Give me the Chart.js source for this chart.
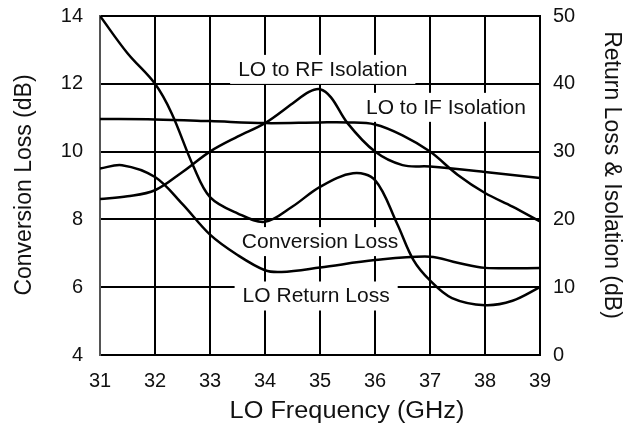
<!DOCTYPE html>
<html>
<head>
<meta charset="utf-8">
<script src="https://cdn.jsdelivr.net/npm/chart.js@4.4.0/dist/chart.umd.min.js"></script>
<style>
  html, body { margin: 0; padding: 0; background: #fff; }
  #wrap { width: 641px; height: 433px; position: relative; }
</style>
</head>
<body>
<div id="wrap"><canvas id="c"></canvas></div>
<script>
// ---- data ----
const xTicks = [31, 32, 33, 34, 35, 36, 37, 38, 39];
const leftTicks = [4, 6, 8, 10, 12, 14];
const rightTicks = [0, 10, 20, 30, 40, 50];

// Conversion Loss (dB, left axis)
const convFreq = [31, 31.4, 32, 32.5, 33, 33.5, 34, 34.3, 35, 36, 37, 37.5, 38, 39];
const convLoss = [9.5, 9.6, 9.25, 8.45, 7.55, 6.95, 6.5, 6.45, 6.58, 6.8, 6.9, 6.72, 6.57, 6.57];

// LO Return Loss (dB, right axis)
const rlFreq = [31, 31.5, 32, 32.3, 32.7, 33, 33.5, 34, 34.5, 35, 35.6, 36, 36.4, 36.7, 37, 37.4, 38, 38.5, 39];
const loReturnLoss = [50, 44.5, 40, 35.7, 27.8, 23.3, 20.9, 19.65, 21.9, 24.8, 26.8, 25.8, 19.4, 14, 11, 8.4, 7.35, 8, 10];

// LO to RF Isolation (dB, right axis)
const rfFreq = [31, 31.5, 32, 32.5, 33, 33.5, 34, 34.5, 34.8, 35, 35.2, 35.5, 36, 36.5, 37, 38, 39];
const loRfIso = [23, 23.4, 24.3, 27, 30, 32.2, 34.2, 37.1, 38.8, 39.2, 38.0, 34.2, 30, 28, 27.8, 27, 26.1];

// LO to IF Isolation (dB, right axis)
const ifFreq = [31, 32, 33, 34, 35, 35.5, 36, 36.5, 37, 37.5, 38, 38.5, 39];
const loIfIso = [34.8, 34.75, 34.5, 34.2, 34.3, 34.3, 34.0, 32.4, 30, 26.6, 23.9, 21.9, 19.7];

// in-plot labels: text, x (GHz), y (left-axis dB)
const labelTexts = ["LO to RF Isolation", "LO to IF Isolation", "Conversion Loss", "LO Return Loss"];
const labelX = [35.05, 37.29, 35.0, 34.93];
const labelY = [12.44, 11.32, 7.36, 5.755];

const FONT = "'Liberation Sans', Arial, Helvetica, sans-serif";

function pts(xs, ys) { return xs.map((x, i) => ({ x: x, y: ys[i] })); }

const lineStyle = {
  borderColor: '#000', borderWidth: 2.5, pointRadius: 0,
  tension: 0.35, fill: false
};

function noVPad(s) { s.paddingTop = 0; s.paddingBottom = 0; }

const labelPlugin = {
  id: 'labels',
  beforeDatasetsDraw(chart) {
    const ctx = chart.ctx;
    const xs = chart.scales.x, ys = chart.scales.y;
    ctx.save();
    ctx.font = '21px ' + FONT;
    ctx.textAlign = 'center';
    ctx.textBaseline = 'middle';
    labelTexts.forEach((t, i) => {
      const px = xs.getPixelForValue(labelX[i]);
      const py = ys.getPixelForValue(labelY[i]);
      const w = ctx.measureText(t).width;
      ctx.fillStyle = '#fff';
      ctx.fillRect(px - w / 2 - 8, py - 14, w + 16, 29);
      ctx.fillStyle = '#111';
      ctx.fillText(t, px, py + 1);
    });
    ctx.restore();
  },
  afterDraw(chart) {
    const ctx = chart.ctx;
    ctx.save();
    ctx.fillStyle = '#111';
    ctx.textAlign = 'center';
    ctx.textBaseline = 'middle';
    ctx.save();
    ctx.font = '23px ' + FONT;
    ctx.translate(347, 412);
    ctx.scale(1.1, 1);
    ctx.fillText('LO Frequency (GHz)', 0, 0);
    ctx.restore();
    ctx.save();
    ctx.font = '23px ' + FONT;
    ctx.translate(25, 185);
    ctx.rotate(-Math.PI / 2);
    ctx.fillText('Conversion Loss (dB)', 0, 0);
    ctx.restore();
    ctx.save();
    ctx.font = '23px ' + FONT;
    ctx.translate(611, 175);
    ctx.rotate(Math.PI / 2);
    ctx.fillText('Return Loss & Isolation (dB)', 0, 0);
    ctx.restore();
    ctx.restore();
  }
};

new Chart(document.getElementById('c'), {
  type: 'line',
  data: {
    datasets: [
      Object.assign({ label: 'Conversion Loss', data: pts(convFreq, convLoss), yAxisID: 'y' }, lineStyle),
      Object.assign({ label: 'LO Return Loss', data: pts(rlFreq, loReturnLoss), yAxisID: 'y2' }, lineStyle),
      Object.assign({ label: 'LO to RF Isolation', data: pts(rfFreq, loRfIso), yAxisID: 'y2' }, lineStyle),
      Object.assign({ label: 'LO to IF Isolation', data: pts(ifFreq, loIfIso), yAxisID: 'y2' }, lineStyle)
    ]
  },
  options: {
    responsive: true,
    maintainAspectRatio: false,
    animation: false,
    devicePixelRatio: 1,
    layout: { padding: { top: 16, left: 0, right: 0, bottom: 0 } },
    plugins: { legend: { display: false }, tooltip: { enabled: false } },
    scales: {
      x: {
        type: 'linear', min: 31, max: 39,
        afterBuildTicks(s) { s.ticks = xTicks.map(v => ({ value: v })); },
        afterFit(s) { s.height = 78; s.paddingLeft = 0; s.paddingRight = 0; },
        grid: { color: '#000', lineWidth: 2, drawTicks: false },
        border: { color: '#000', width: 2 },
        ticks: { color: '#111', font: { family: FONT, size: 20 }, padding: 14 }
      },
      y: {
        type: 'linear', position: 'left', min: 4, max: 14,
        afterBuildTicks(s) { s.ticks = leftTicks.map(v => ({ value: v })); },
        afterFit(s) { s.width = 100; noVPad(s); },
        grid: { color: '#000', lineWidth: 2, drawTicks: false },
        border: { color: '#555', width: 2 },
        ticks: { color: '#111', font: { family: FONT, size: 20 }, padding: 17 }
      },
      y2: {
        type: 'linear', position: 'right', min: 0, max: 50,
        afterBuildTicks(s) { s.ticks = rightTicks.map(v => ({ value: v })); },
        afterFit(s) { s.width = 101; noVPad(s); },
        grid: { drawOnChartArea: false, drawTicks: false },
        border: { color: '#000', width: 2 },
        ticks: { color: '#111', font: { family: FONT, size: 20 }, padding: 13 }
      }
    }
  },
  plugins: [labelPlugin]
});
</script>
</body>
</html>
